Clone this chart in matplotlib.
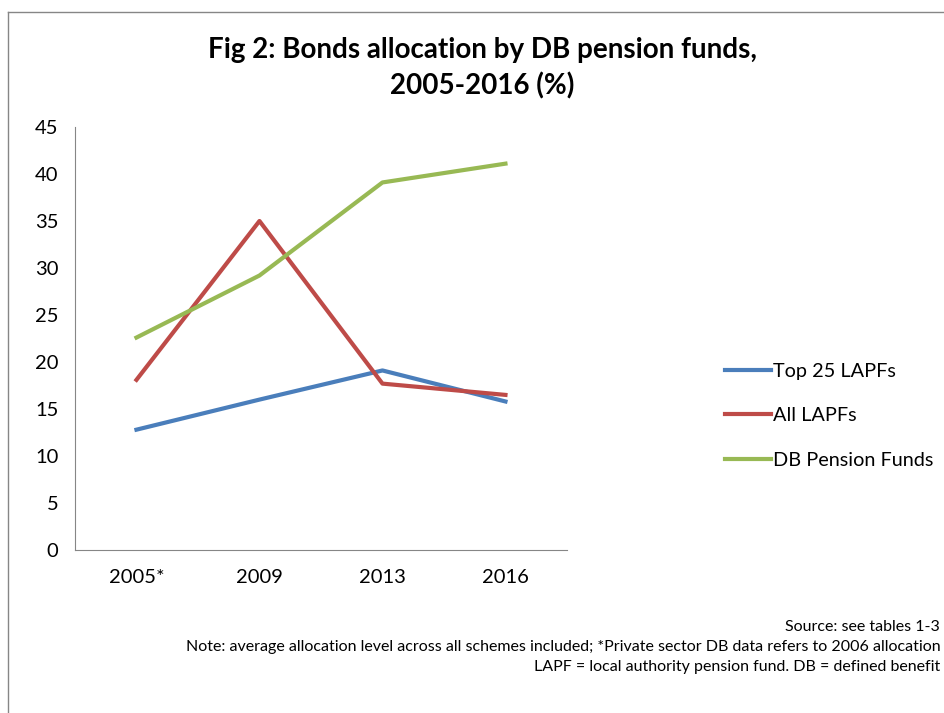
import matplotlib.pyplot as plt
from matplotlib.lines import Line2D

years = ['2005*', '2009', '2013', '2016']
top25_lapfs = [12.8, 16.0, 19.1, 15.8]
all_lapfs = [18.1, 35.0, 17.7, 16.5]
db_pension = [22.6, 29.2, 39.1, 41.1]

plt.rcParams['font.family'] = ['Lato', 'DejaVu Sans']

fig = plt.figure(figsize=(9.44, 7.13), dpi=100)
ax = fig.add_axes([0.0794, 0.2286, 0.5212, 0.5933])

x = range(len(years))
ax.plot(x, top25_lapfs, color='#4A7EBB', lw=3, label='Top 25 LAPFs')
ax.plot(x, all_lapfs, color='#BE4B48', lw=3, label='All LAPFs')
ax.plot(x, db_pension, color='#98B954', lw=3, label='DB Pension Funds')

ax.set_xlim(-0.5, 3.5)
ax.set_ylim(0, 45)
ax.set_yticks(range(0, 46, 5))
ax.set_xticks(list(x))
ax.set_xticklabels(years)
ax.tick_params(length=0, labelsize=14.5, colors='black')
ax.tick_params(axis='y', pad=12)
ax.tick_params(axis='x', pad=14)
for s in ['top', 'right']:
    ax.spines[s].set_visible(False)
for s in ['left', 'bottom']:
    ax.spines[s].set_color('#868686')

ax.legend(loc='center left', bbox_to_anchor=(1.321, 0.317), frameon=False,
          fontsize=14.3, handlelength=2.3, handletextpad=0.1, labelspacing=1.4,
          borderpad=0, borderaxespad=0)

fig.text(0.511, 0.904, 'Fig 2: Bonds allocation by DB pension funds,\n2005-2016 (%)',
         ha='center', va='center', fontsize=20, fontweight='bold', linespacing=1.4)

fig.text(0.996, 0.121, 'Source: see tables 1-3', ha='right', va='center', fontsize=11.5)
fig.text(0.996, 0.093, 'Note: average allocation level across all schemes included; '
         '*Private sector DB data refers to 2006 allocation', ha='right', va='center', fontsize=11.5)
fig.text(0.996, 0.065, 'LAPF = local authority pension fund. DB = defined benefit',
         ha='right', va='center', fontsize=11.5)

# outer chart border (left and top edges visible)
fig.add_artist(Line2D([8/944, 8/944], [0, 1 - 12/713], transform=fig.transFigure,
                      color='#868686', lw=1))
fig.add_artist(Line2D([8/944, 1], [1 - 12/713, 1 - 12/713], transform=fig.transFigure,
                      color='#868686', lw=1))

fig.savefig('out.png', dpi=100)
